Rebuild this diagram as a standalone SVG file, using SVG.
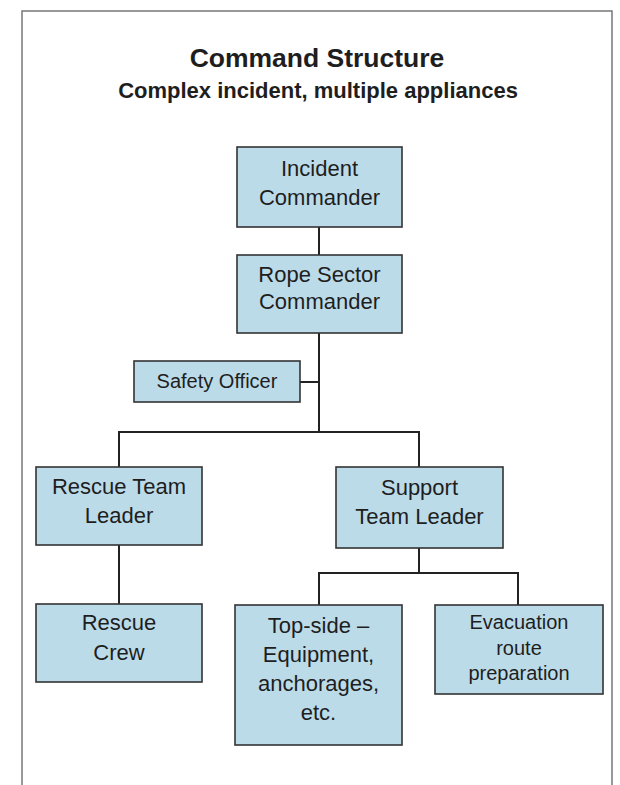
<svg xmlns="http://www.w3.org/2000/svg" width="620" height="785" viewBox="0 0 620 785">
<style>
.frame{fill:none;stroke:#777;stroke-width:1.5}
.box{fill:#bcdbe9;stroke:#333;stroke-width:1.6}
.conn{fill:none;stroke:#222;stroke-width:2}
text{font-family:"Liberation Sans",Arial,sans-serif;fill:#1e1e1e;text-anchor:middle}
.t{font-size:26.5px;font-weight:bold}
.st{font-size:22px;font-weight:bold}
.n{font-size:22px}
.s{font-size:20px}
</style>
<rect width="620" height="785" fill="#fff"/>
<path class="frame" d="M22,790 V11 H612 V790"/>
<text class="t" x="317" y="67">Command Structure</text>
<text class="st" x="318" y="98">Complex incident, multiple appliances</text>
<g id="connectors">
<path class="conn" d="M319,227 V255"/>
<path class="conn" d="M319,333 V432"/>
<path class="conn" d="M300,382 H319"/>
<path class="conn" d="M119,467 V432 H419 V467"/>
<path class="conn" d="M119,545 V604"/>
<path class="conn" d="M419,548 V573"/>
<path class="conn" d="M319,605 V573 H518 V605"/>
</g>
<g id="incident-commander">
<rect class="box" x="237" y="147" width="165" height="80"/>
<text class="n" x="319.5" y="176">Incident</text>
<text class="n" x="319.5" y="205">Commander</text>
</g>
<g id="rope-sector-commander">
<rect class="box" x="237" y="255" width="165" height="78"/>
<text class="n" x="319.5" y="282">Rope Sector</text>
<text class="n" x="319.5" y="309">Commander</text>
</g>
<g id="safety-officer">
<rect class="box" x="134" y="361" width="166" height="41"/>
<text class="s" x="217" y="388">Safety Officer</text>
</g>
<g id="rescue-team-leader">
<rect class="box" x="36" y="467" width="166" height="78"/>
<text class="n" x="119" y="494">Rescue Team</text>
<text class="n" x="119" y="523">Leader</text>
</g>
<g id="support-team-leader">
<rect class="box" x="336" y="467" width="167" height="81"/>
<text class="n" x="419.5" y="495">Support</text>
<text class="n" x="419.5" y="524">Team Leader</text>
</g>
<g id="rescue-crew">
<rect class="box" x="36" y="604" width="166" height="78"/>
<text class="n" x="119" y="630">Rescue</text>
<text class="n" x="119" y="660">Crew</text>
</g>
<g id="top-side">
<rect class="box" x="235" y="605" width="167" height="140"/>
<text class="n" x="318.5" y="633">Top-side –</text>
<text class="n" x="318.5" y="662">Equipment,</text>
<text class="n" x="318.5" y="691">anchorages,</text>
<text class="n" x="318.5" y="720">etc.</text>
</g>
<g id="evacuation-route">
<rect class="box" x="435" y="605" width="168" height="89"/>
<text class="s" x="519" y="629">Evacuation</text>
<text class="s" x="519" y="655">route</text>
<text class="s" x="519" y="680">preparation</text>
</g>
</svg>
